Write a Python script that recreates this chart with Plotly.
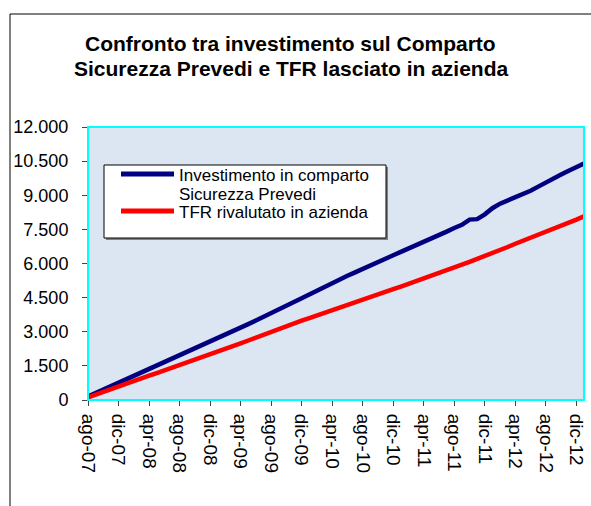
import plotly.graph_objects as go

# ---- data ----
mesi = ["gen", "feb", "mar", "apr", "mag", "giu", "lug", "ago", "set", "ott", "nov", "dic"]
categorie = []
anno, mese = 2007, 7  # ago-07
for _ in range(66):
    categorie.append(f"{mesi[mese]}-{anno % 100:02d}")
    mese += 1
    if mese == 12:
        mese, anno = 0, anno + 1

investimento_prevedi = [
    150, 300, 460, 600, 740, 890, 1040, 1190, 1345, 1495, 1645, 1795,
    1950, 2100, 2255, 2410, 2565, 2720, 2875, 3030, 3180, 3335, 3495, 3650,
    3810, 3975, 4140, 4300, 4470, 4640, 4810, 4985, 5155, 5310, 5460, 5610,
    5770, 5910, 6060, 6210, 6360, 6510, 6650, 6800, 6960, 7110, 7260, 7400,
    7560, 7700, 7930, 7950, 8160, 8430, 8630, 8760, 8900, 9040, 9200, 9380,
    9570, 9750, 9910, 10080, 10240, 10390,
]
tfr_azienda = [
    110, 235, 360, 490, 615, 730, 845, 960, 1070, 1185, 1300, 1420,
    1540, 1660, 1780, 1900, 2020, 2140, 2255, 2375, 2490, 2615, 2745, 2875,
    3000, 3120, 3245, 3365, 3485, 3600, 3720, 3835, 3950, 4070, 4190, 4305,
    4420, 4535, 4645, 4760, 4870, 4985, 5100, 5215, 5330, 5450, 5580, 5705,
    5830, 5950, 6075, 6195, 6320, 6450, 6580, 6725, 6870, 7000, 7130, 7250,
    7370, 7500, 7630, 7780, 7930, 8080,
]
etichette_x = categorie[0::4]          # ago-07, dic-07, ... dic-12
valori_y = list(range(0, 12001, 1500))  # 0 ... 12.000

nome_blu = "Investimento in comparto Sicurezza Prevedi"
nome_rosso = "TFR rivalutato in azienda"

# ---- layout geometry (pixels of the 591x506 page) ----
W, H = 591, 506
L, R, T, B = 88, 584, 127, 400
def px(x):
    return (x - L) / (R - L)
def py(y):
    return (B - y) / (B - T)

FONT = "Liberation Sans, Arial, sans-serif"

fig = go.Figure()
fig.add_trace(go.Scatter(x=categorie, y=investimento_prevedi, mode="lines",
                         name=nome_blu, line=dict(color="#000080", width=4.5)))
fig.add_trace(go.Scatter(x=categorie, y=tfr_azienda, mode="lines",
                         name=nome_rosso, line=dict(color="#FF0000", width=4.5)))

shapes = [
    # outer chart frame (right/bottom edges fall outside the page)
    dict(type="rect", xref="paper", yref="paper", x0=px(10), x1=px(640), y0=py(560), y1=py(14),
         line=dict(color="black", width=1), fillcolor="rgba(0,0,0,0)", layer="below"),
    # plot-area cyan border
    dict(type="rect", xref="paper", yref="paper", x0=0, x1=1, y0=0, y1=1,
         line=dict(color="#00FFFF", width=2), layer="above"),
    # legend shadow + box
    dict(type="rect", xref="paper", yref="paper", x0=px(106), x1=px(388), y0=py(240), y1=py(167),
         line=dict(width=0), fillcolor="#808080", layer="above"),
    dict(type="rect", xref="paper", yref="paper", x0=px(104), x1=px(386), y0=py(238), y1=py(165),
         line=dict(color="black", width=1), fillcolor="white", layer="above"),
    # legend samples
    dict(type="line", xref="paper", yref="paper", x0=px(121), x1=px(174), y0=py(174), y1=py(174),
         line=dict(color="#000080", width=5), layer="above"),
    dict(type="line", xref="paper", yref="paper", x0=px(121), x1=px(174), y0=py(211), y1=py(211),
         line=dict(color="#FF0000", width=5), layer="above"),
]

ann = [
    dict(text="<b>Confronto tra investimento sul Comparto</b>", x=px(290), y=py(44)),
    dict(text="<b>Sicurezza Prevedi e TFR lasciato in azienda</b>", x=px(291), y=py(68)),
]
annotations = []
for a in ann:
    annotations.append(dict(text=a["text"], x=a["x"], y=a["y"], xref="paper", yref="paper",
                            xanchor="center", yanchor="middle", showarrow=False,
                            font=dict(family=FONT, size=21, color="black")))
for txt, yy in [("Investimento in comparto", 175), ("Sicurezza Prevedi", 194), (nome_rosso, 212)]:
    annotations.append(dict(text=txt, x=px(177), y=py(yy), xref="paper", yref="paper",
                            xanchor="left", yanchor="middle", showarrow=False,
                            font=dict(family=FONT, size=17, color="black")))

fig.update_layout(
    width=W, height=H,
    margin=dict(l=L, r=W - R, t=T, b=H - B, pad=0, autoexpand=False),
    paper_bgcolor="white",
    plot_bgcolor="#DCE6F2",
    showlegend=False,
    separators=",.",
    font=dict(family=FONT, color="black"),
    shapes=shapes,
    annotations=annotations,
)
fig.update_xaxes(
    type="category", categoryorder="array", categoryarray=categorie,
    range=[0, len(categorie) - 1], automargin=False,
    tickmode="array", tickvals=etichette_x, ticktext=etichette_x,
    tickangle=90, ticks="outside", ticklen=5, tickcolor="#444", tickwidth=1,
    showline=True, linecolor="#333", linewidth=1, showgrid=False, zeroline=False,
    tickfont=dict(family=FONT, size=19, color="black"), ticklabelstandoff=4,
)
fig.update_yaxes(
    range=[0, 12000], tickmode="array", tickvals=valori_y, tickformat=",.0f",
    automargin=False,
    ticks="outside", ticklen=5, tickcolor="#444", tickwidth=1,
    showline=True, linecolor="#333", linewidth=1, showgrid=False, zeroline=False,
    tickfont=dict(family=FONT, size=18, color="black"), ticklabelstandoff=10,
)

fig.write_html("out.html", config={"displayModeBar": False},
               post_script="document.body.style.margin='0px';document.body.style.overflow='hidden';")
